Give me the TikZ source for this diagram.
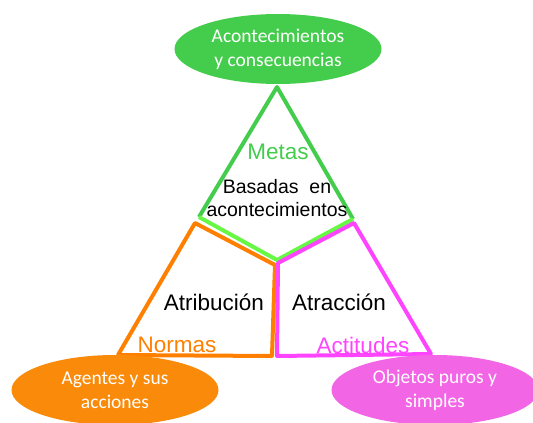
\documentclass[tikz,border=0pt]{standalone}
\usepackage{fontspec}
\setmainfont{Liberation Sans}
\newfontfamily\calfont{Carlito}
\usetikzlibrary{shapes.geometric}

\definecolor{metagreen}{HTML}{44CC4C}
\definecolor{lightgreen}{HTML}{66F844}
\definecolor{normorange}{HTML}{FF8000}
\definecolor{orangefill}{HTML}{F98A0A}
\definecolor{actpink}{HTML}{FF44FF}
\definecolor{pinkfill}{HTML}{F266E6}

\begin{document}
\begin{tikzpicture}[x=1pt,y=-1pt,line width=4pt,line join=round,
    pole/.style={ellipse,minimum width=207pt,minimum height=70pt,inner sep=0pt,
      text=white,align=center,font=\calfont\fontsize{19.5}{24}\selectfont},
    field/.style={font=\fontsize{22.5}{26}\selectfont},
    inner/.style={align=center,font=\fontsize{19.5}{23}\selectfont}]
    \useasboundingbox (0,0) rectangle (533,423);
    % corners of the three fields
    \coordinate (apex) at (277,87);
    \coordinate (gl) at (199,217);
    \coordinate (gr) at (353,219);
    \coordinate (gb) at (277,260);
    \coordinate (ot) at (195,223);
    \coordinate (or) at (275,265);
    \coordinate (ob) at (272,356);
    \coordinate (ol) at (118,355);
    \coordinate (pt) at (354,223);
    \coordinate (pl) at (278,263);
    \coordinate (pb) at (277,356);
    \coordinate (pr) at (431,354);
    \draw[metagreen] (gl) -- (apex) -- (gr);
    \draw[lightgreen] (gl) -- (gb) -- (gr);
    \draw[normorange] (ot) -- (or) -- (ob) -- (ol) -- cycle;
    \draw[actpink] (pt) -- (pl) -- (pb) -- (pr) -- cycle;
    \node[pole,fill=metagreen] (events) at (278,49) {Acontecimientos\\y consecuencias};
    \node[pole,fill=orangefill] (agents) at (115,390) {Agentes y sus\\acciones};
    \node[pole,fill=pinkfill] (objects) at (435,390) {Objetos puros y\\simples};
    \node[field,text=metagreen] (metas) at (278,152) {Metas};
    \node[inner] (basadas) at (277,198) {Basadas\ \ en\\acontecimientos};
    \node[field] (atrib) at (214,302) {Atribución};
    \node[field,text=normorange] (normas) at (177,345) {Normas};
    \node[field] (atrac) at (339,302) {Atracción};
    \node[field,text=actpink] (actitudes) at (363,345) {Actitudes};
\end{tikzpicture}
\end{document}
